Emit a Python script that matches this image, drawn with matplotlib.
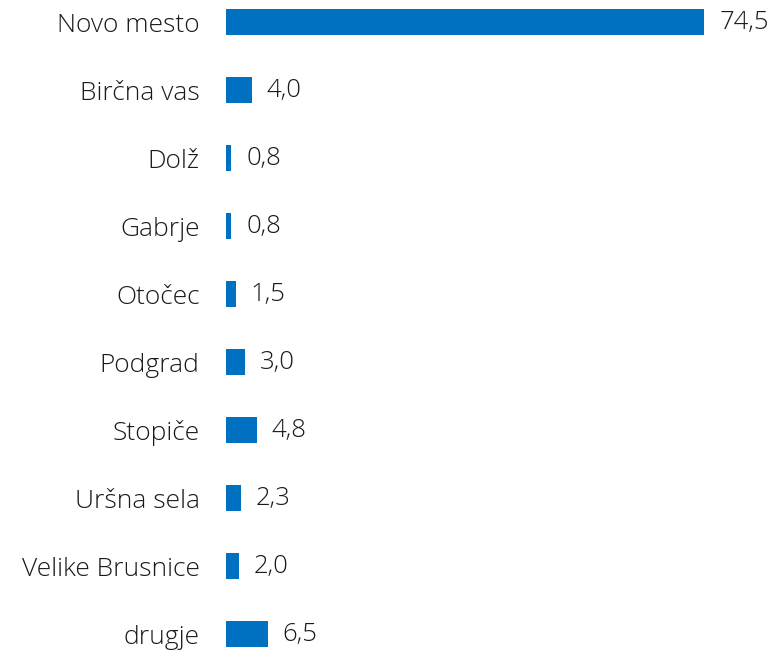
import matplotlib.pyplot as plt

plt.rcParams["font.family"] = ["Open Sans", "DejaVu Sans"]

places = ["Novo mesto", "Birčna vas", "Dolž", "Gabrje", "Otočec",
          "Podgrad", "Stopiče", "Uršna sela", "Velike Brusnice", "drugje"]
shares = [74.5, 4.0, 0.8, 0.8, 1.5, 3.0, 4.8, 2.3, 2.0, 6.5]

fig = plt.figure(figsize=(7.79, 6.5), dpi=100)
ax = fig.add_axes([226 / 779, 0, 553 / 779, 1])

ypos = range(len(places))
ax.barh(ypos, shares, height=0.38, color="#0070C0")

ax.set_xlim(0, 553 / 6.42)
ax.set_ylim(9 + 16 / 68, -22 / 68)

for y, v in zip(ypos, shares):
    ax.annotate(f"{v:.1f}".replace(".", ","), (v, y), xytext=(15, 0),
                textcoords="offset pixels", va="center", ha="left",
                fontsize=18.5, fontweight="light", color="#1a1a1a")

ax.set_yticks(list(ypos))
ax.set_yticklabels(places, fontsize=19, fontweight="light", color="#1a1a1a")
ax.tick_params(axis="y", length=0, pad=19)
ax.set_xticks([])
for s in ax.spines.values():
    s.set_visible(False)

fig.savefig("out.png", dpi=100)
